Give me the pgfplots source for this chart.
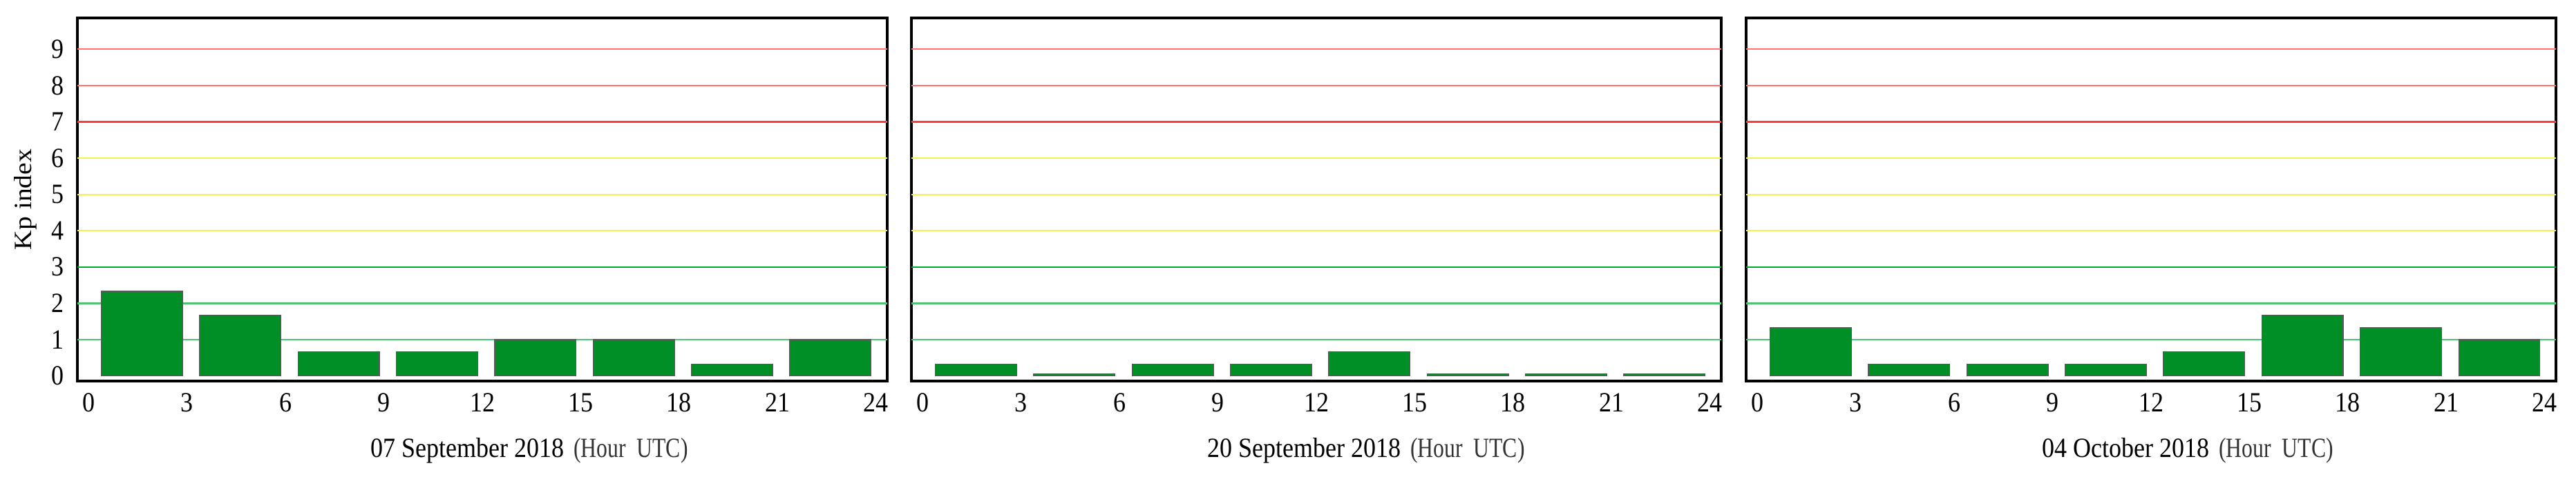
\documentclass[border=0pt]{standalone}
\usepackage{pgfplots}
\pgfplotsset{compat=1.18}
\usepackage{fontspec}
\setmainfont{Liberation Serif}

\definecolor{kpbar}{RGB}{0,142,38}
\definecolor{kpred}{RGB}{255,60,60}
\definecolor{kpredl}{RGB}{255,115,115}
\definecolor{kpyel}{RGB}{242,242,80}
\definecolor{kpgrn}{RGB}{0,170,50}
\definecolor{kpgrnl}{RGB}{80,195,115}

% common look of the three panels
\pgfplotsset{kp/.style={
    scale only axis, width=293pt, height=131.5pt,
    xmin=-0.35, xmax=24.35, ymin=-0.14, ymax=9.86,
    xtick={0,3,...,24}, ytick={0,...,9},
    major tick length=0pt,
    axis line style={line width=0.9pt},
    tick label style={font=\fontsize{9}{10}\selectfont, yscale=1.12},
    /pgf/number format/assume math mode=true,
    xticklabel shift=0.5pt, yticklabel shift=1.4pt,
    anchor=south west,
}}

% coloured Kp level lines
\newcommand\kpgrid{%
  \draw[kpgrnl, line width=0.55pt] (axis cs:-0.35,1) -- (axis cs:24.35,1);
  \draw[kpgrnl, line width=0.55pt] (axis cs:-0.35,2) -- (axis cs:24.35,2);
  \draw[kpgrn,  line width=0.55pt] (axis cs:-0.35,3) -- (axis cs:24.35,3);
  \draw[kpyel,  line width=0.55pt] (axis cs:-0.35,4) -- (axis cs:24.35,4);
  \draw[kpyel,  line width=0.55pt] (axis cs:-0.35,5) -- (axis cs:24.35,5);
  \draw[kpyel,  line width=0.55pt] (axis cs:-0.35,6) -- (axis cs:24.35,6);
  \draw[kpred,  line width=0.55pt] (axis cs:-0.35,7) -- (axis cs:24.35,7);
  \draw[kpredl, line width=0.55pt] (axis cs:-0.35,8) -- (axis cs:24.35,8);
  \draw[kpredl, line width=0.55pt] (axis cs:-0.35,9) -- (axis cs:24.35,9);
}
\newcommand\kplabel[1]{#1\hspace{3.5pt}{\color{black!80}\scalebox{0.88}[1]{(Hour\ \ UTC)}}}

\begin{document}
\begin{tikzpicture}
\useasboundingbox (0,0) rectangle (932pt,172.75pt);

\begin{axis}[kp, at={(28pt,34.75pt)}]
  \kpgrid
  \addplot[ybar, bar width=2.48, fill=kpbar, draw=black!65, line width=0.3pt]
    coordinates {(1.62,2.33) (4.62,1.67) (7.62,0.67) (10.62,0.67)
                 (13.62,1.0) (16.62,1.0) (19.62,0.33) (22.62,1.0)};
\end{axis}

\begin{axis}[kp, at={(329.75pt,34.75pt)}, yticklabels={}]
  \kpgrid
  \addplot[ybar, bar width=2.48, fill=kpbar, draw=black!65, line width=0.3pt]
    coordinates {(1.62,0.33) (4.62,0.06) (7.62,0.33) (10.62,0.33)
                 (13.62,0.67) (16.62,0.06) (19.62,0.06) (22.62,0.06)};
\end{axis}

\begin{axis}[kp, at={(631.75pt,34.75pt)}, yticklabels={}]
  \kpgrid
  \addplot[ybar, bar width=2.48, fill=kpbar, draw=black!65, line width=0.3pt]
    coordinates {(1.62,1.33) (4.62,0.33) (7.62,0.33) (10.62,0.33)
                 (13.62,0.67) (16.62,1.67) (19.62,1.33) (22.62,1.0)};
\end{axis}

\node[rotate=90, xscale=1.1, font=\fontsize{9}{10}\selectfont] at (9.25pt,100.5pt) {Kp index};
\node[anchor=base, yscale=1.12, font=\fontsize{9}{10}\selectfont] at (191.5pt,7pt) {\kplabel{07 September 2018}};
\node[anchor=base, yscale=1.12, font=\fontsize{9}{10}\selectfont] at (494.25pt,7pt) {\kplabel{20 September 2018}};
\node[anchor=base, yscale=1.12, font=\fontsize{9}{10}\selectfont] at (791.5pt,7pt) {\kplabel{04 October 2018}};
\end{tikzpicture}
\end{document}
